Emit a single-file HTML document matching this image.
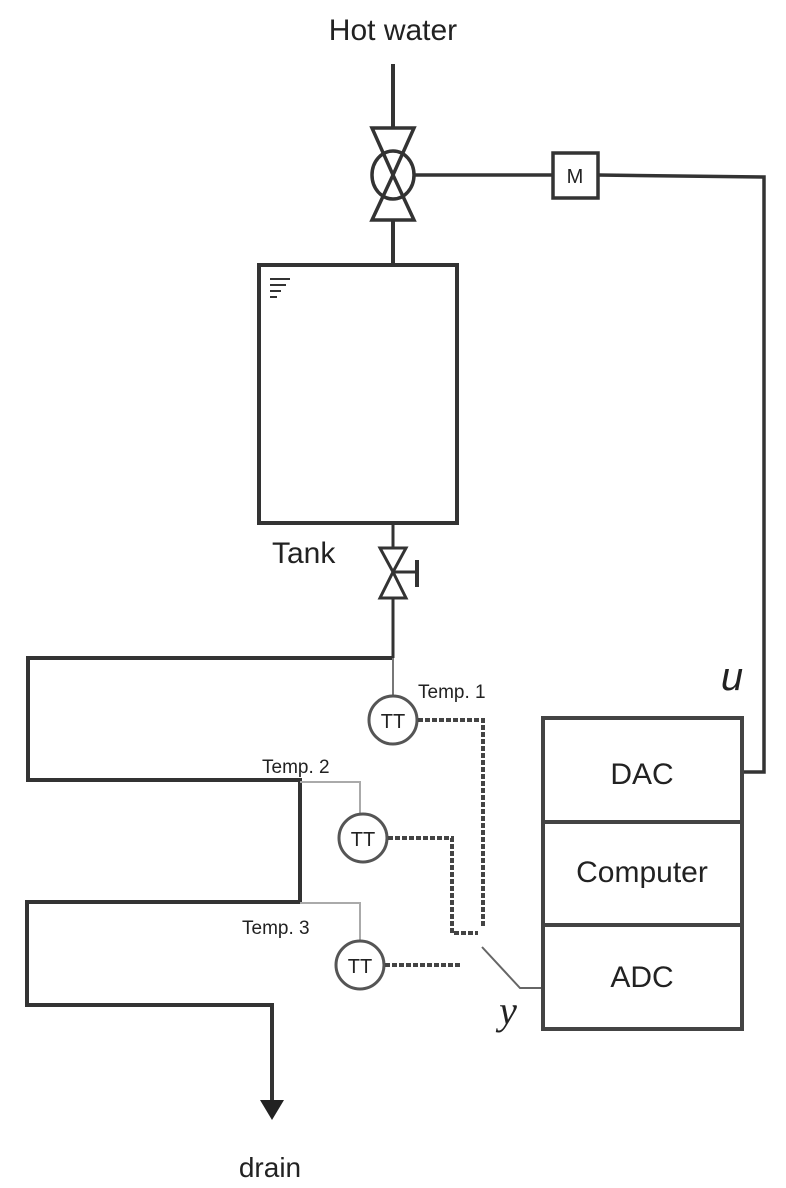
<!DOCTYPE html>
<html><head><meta charset="utf-8"><style>
html,body{margin:0;padding:0;background:#fff;}
svg{display:block;}
text{font-family:"Liberation Sans",sans-serif;fill:#222;}
</style></head><body>
<svg width="786" height="1188" viewBox="0 0 786 1188" xmlns="http://www.w3.org/2000/svg">
<g stroke="#333" fill="none" stroke-width="4">
<line x1="393" y1="64" x2="393" y2="128"/>
<line x1="393" y1="220" x2="393" y2="265"/>
<polygon points="372,128 414,128 393,175" stroke-width="3.5"/>
<polygon points="372,220 414,220 393,175" stroke-width="3.5"/>
<ellipse cx="393" cy="175" rx="21" ry="24" stroke-width="3.5"/>
<line x1="414" y1="175" x2="552" y2="175" stroke-width="3.5"/>
<rect x="553" y="153" width="45" height="45" stroke-width="3.5"/>
<polyline points="598,175 764,177 764,772 742,772" stroke-width="3.5"/>
<rect x="259" y="265" width="198" height="258" stroke-width="4"/>
<line x1="270" y1="279" x2="290" y2="279" stroke-width="2"/>
<line x1="270" y1="285" x2="286" y2="285" stroke-width="2"/>
<line x1="270" y1="291" x2="281" y2="291" stroke-width="2"/>
<line x1="270" y1="297" x2="277" y2="297" stroke-width="2"/>
<line x1="393" y1="523" x2="393" y2="548" stroke-width="3"/>
<polygon points="380,548 406,548 393,572" stroke-width="3"/>
<polygon points="380,598 406,598 393,572" stroke-width="3"/>
<line x1="393" y1="572" x2="417" y2="572" stroke-width="3"/>
<line x1="417" y1="560" x2="417" y2="587" stroke-width="4"/>
<line x1="393" y1="598" x2="393" y2="658" stroke-width="3"/>
<polyline points="393,658 28,658 28,780 300,780 300,902 27,902 27,1005 272,1005 272,1102" stroke-width="4"/>
<line x1="393" y1="658" x2="393" y2="696" stroke-width="2" stroke="#777"/>
<polyline points="300,782 360,782 360,813" stroke="#aaa" stroke-width="2"/>
<polyline points="300,903 360,903 360,940" stroke="#aaa" stroke-width="2"/>
<circle cx="393" cy="720" r="24" stroke-width="3" stroke="#555"/>
<circle cx="363" cy="838" r="24" stroke-width="3" stroke="#555"/>
<circle cx="360" cy="965" r="24" stroke-width="3" stroke="#555"/>
<g stroke-dasharray="5,2" stroke-width="4" stroke="#444">
<polyline points="418,720 483,720 483,928"/>
<polyline points="388,838 452,838 452,933 478,933"/>
<polyline points="385,965 462,965"/>
</g>
<polyline points="482,947 520,988 543,988" stroke-width="2" stroke="#666"/>
<rect x="543" y="718" width="199" height="311" stroke-width="4" stroke="#444"/>
<line x1="543" y1="822" x2="742" y2="822" stroke-width="4" stroke="#444"/>
<line x1="543" y1="925" x2="742" y2="925" stroke-width="4" stroke="#444"/>
</g>
<polygon points="260,1100 284,1100 272,1120" fill="#222"/>
<text x="393" y="40" font-size="30" text-anchor="middle">Hot water</text>
<text x="575" y="183" font-size="20" text-anchor="middle">M</text>
<text x="272" y="563" font-size="30">Tank</text>
<text x="418" y="698" font-size="19">Temp. 1</text>
<text x="262" y="773" font-size="19">Temp. 2</text>
<text x="242" y="934" font-size="19">Temp. 3</text>
<text x="393" y="728" font-size="20" text-anchor="middle">TT</text>
<text x="363" y="846" font-size="20" text-anchor="middle">TT</text>
<text x="360" y="973" font-size="20" text-anchor="middle">TT</text>
<text x="642" y="784" font-size="30" text-anchor="middle">DAC</text>
<text x="642" y="882" font-size="30" text-anchor="middle">Computer</text>
<text x="642" y="987" font-size="30" text-anchor="middle">ADC</text>
<text x="732" y="690" font-size="40" font-style="italic" text-anchor="middle">u</text>
<text x="508" y="1024" font-size="40" font-style="italic" text-anchor="middle" style="font-family:'Liberation Serif',serif">y</text>
<text x="270" y="1177" font-size="28" text-anchor="middle">drain</text>
</svg>
</body></html>
